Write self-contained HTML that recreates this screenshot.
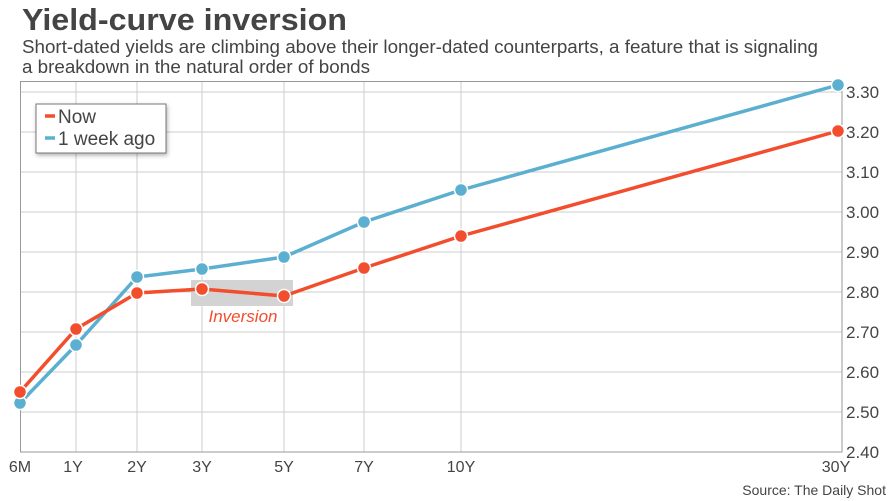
<!DOCTYPE html>
<html><head><meta charset="utf-8"><style>
html,body{margin:0;padding:0;background:#fff;}
svg{display:block;font-family:"Liberation Sans",sans-serif;}
</style></head><body>
<svg width="890" height="501" viewBox="0 0 890 501" xmlns="http://www.w3.org/2000/svg">
<text x="22" y="30" font-size="31" font-weight="bold" fill="#444" textLength="325" lengthAdjust="spacingAndGlyphs">Yield-curve inversion</text>
<text x="22" y="53" font-size="18" fill="#444" textLength="796" lengthAdjust="spacingAndGlyphs">Short-dated yields are climbing above their longer-dated counterparts, a feature that is signaling</text>
<text x="22" y="73" font-size="18" fill="#444" textLength="348" lengthAdjust="spacingAndGlyphs">a breakdown in the natural order of bonds</text>
<g stroke="#ccc" stroke-width="1">
<line x1="20" y1="92" x2="842" y2="92"/><line x1="20" y1="132" x2="842" y2="132"/><line x1="20" y1="172" x2="842" y2="172"/><line x1="20" y1="212" x2="842" y2="212"/><line x1="20" y1="252" x2="842" y2="252"/><line x1="20" y1="292" x2="842" y2="292"/><line x1="20" y1="332" x2="842" y2="332"/><line x1="20" y1="372" x2="842" y2="372"/><line x1="20" y1="412" x2="842" y2="412"/>
<line x1="76" y1="82" x2="76" y2="452"/><line x1="137" y1="82" x2="137" y2="452"/><line x1="202" y1="82" x2="202" y2="452"/><line x1="284" y1="82" x2="284" y2="452"/><line x1="364" y1="82" x2="364" y2="452"/><line x1="461" y1="82" x2="461" y2="452"/>
</g>
<rect x="20.5" y="81.5" width="821.5" height="370.5" fill="none" stroke="#999"/>
<rect x="191" y="280" width="102" height="26" fill="#d3d3d3"/>
<text x="243" y="322" font-size="17" font-style="italic" fill="#f24e2e" text-anchor="middle">Inversion</text>
<polyline fill="none" stroke="#5bafd0" stroke-width="3.5" points="20,403 76,345 137,277 202,269 284,257 364,222 461,190 838,85"/>
<polyline fill="none" stroke="#f24e2e" stroke-width="3.5" points="20,392 76,329 137,293 202,289 284,296 364,268 461,236 838,131"/>
<g fill="#5bafd0" stroke="#fff" stroke-width="1.5">
<circle cx="20" cy="403" r="6.5"/><circle cx="76" cy="345" r="6.5"/><circle cx="137" cy="277" r="6.5"/><circle cx="202" cy="269" r="6.5"/><circle cx="284" cy="257" r="6.5"/><circle cx="364" cy="222" r="6.5"/><circle cx="461" cy="190" r="6.5"/><circle cx="838" cy="85" r="6.5"/>
</g>
<g fill="#f24e2e" stroke="#fff" stroke-width="1.5">
<circle cx="20" cy="392" r="6.5"/><circle cx="76" cy="329" r="6.5"/><circle cx="137" cy="293" r="6.5"/><circle cx="202" cy="289" r="6.5"/><circle cx="284" cy="296" r="6.5"/><circle cx="364" cy="268" r="6.5"/><circle cx="461" cy="236" r="6.5"/><circle cx="838" cy="131" r="6.5"/>
</g>
<rect x="36" y="104" width="130" height="49" fill="#fff" stroke="#777" style="filter:drop-shadow(1px 2px 2px rgba(0,0,0,0.3))"/>
<line x1="45" y1="116" x2="55" y2="116" stroke="#f24e2e" stroke-width="3.5"/>
<line x1="45" y1="138" x2="55" y2="138" stroke="#5bafd0" stroke-width="3.5"/>
<text x="58" y="123" font-size="19" fill="#444">Now</text>
<text x="58" y="145" font-size="19" fill="#444">1 week ago</text>
<g font-size="17" fill="#444">
<text x="846" y="98">3.30</text><text x="846" y="138">3.20</text><text x="846" y="178">3.10</text><text x="846" y="218">3.00</text><text x="846" y="258">2.90</text><text x="846" y="298">2.80</text><text x="846" y="338">2.70</text><text x="846" y="378">2.60</text><text x="846" y="418">2.50</text><text x="846" y="458">2.40</text>
</g>
<g font-size="16" fill="#444" text-anchor="middle">
<text x="20" y="472">6M</text><text x="73" y="472">1Y</text><text x="137" y="472">2Y</text><text x="202" y="472">3Y</text><text x="284" y="472">5Y</text><text x="364" y="472">7Y</text><text x="461" y="472">10Y</text><text x="836" y="472">30Y</text>
</g>
<text x="886" y="495" font-size="14" fill="#444" text-anchor="end">Source: The Daily Shot</text>
</svg>
</body></html>
